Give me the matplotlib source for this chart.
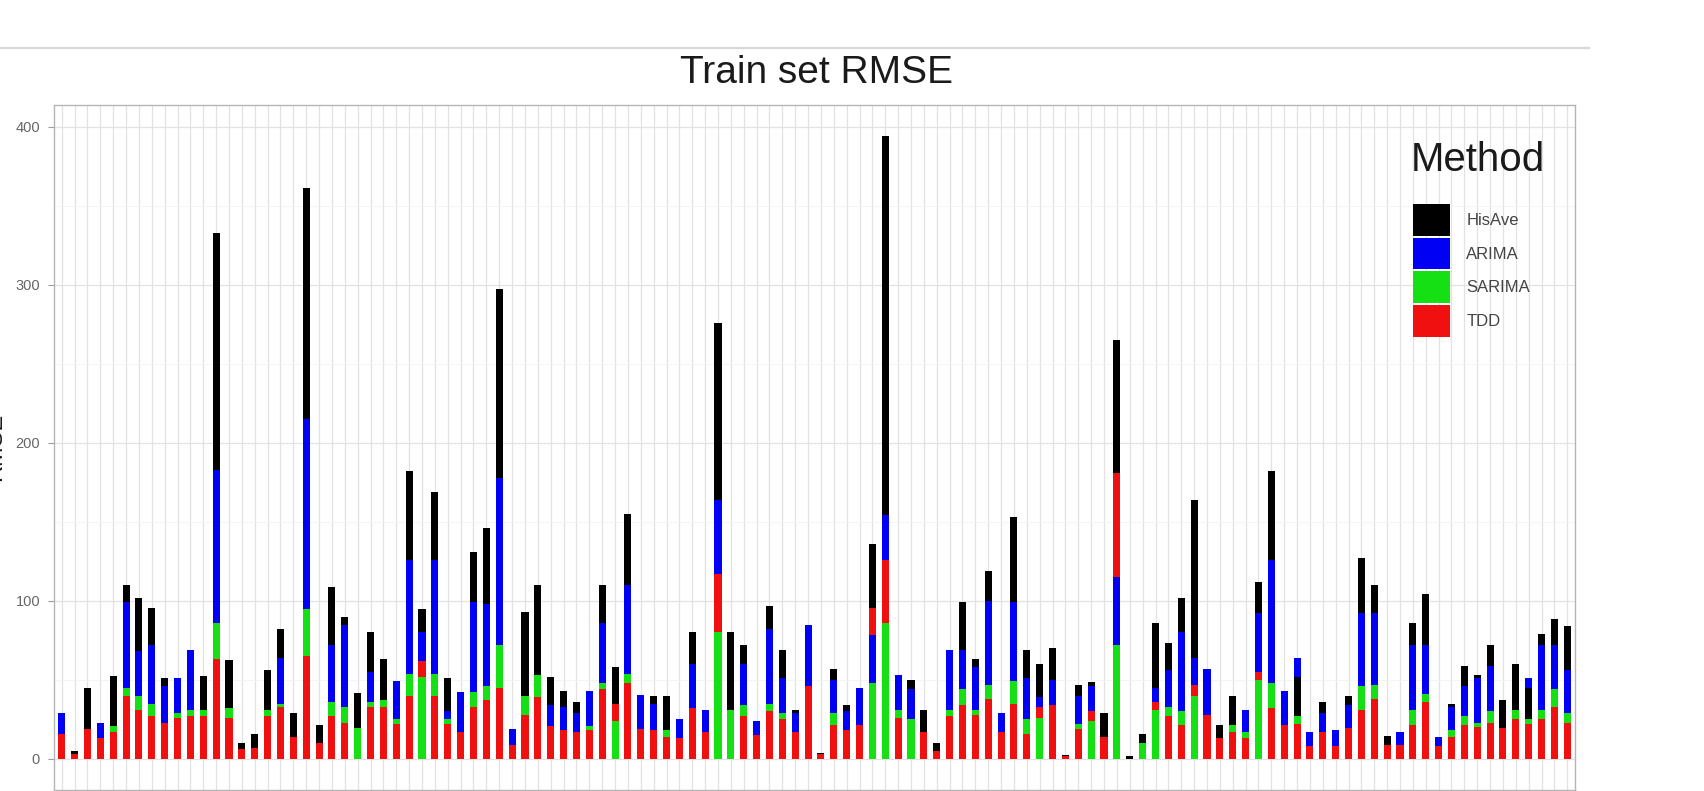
import numpy as np
import matplotlib
matplotlib.use("Agg")
import matplotlib.pyplot as plt
from matplotlib.patches import Patch
from matplotlib.lines import Line2D

plt.rcParams["font.family"] = ["Liberation Sans", "DejaVu Sans"]

nan = np.nan

# RMSE per series, one entry per bar (nan = not shown)
hisave = [nan, 5, 45, nan, 52.6, 110, 102, 95.5, 51, nan,
          nan, 52.5, 333, 62.7, 10, 16, 56.5, 82, 29, 361,
          21.5, 109, 90, 41.6, 80, 63, nan, 182, 95, 169,
          51, nan, 131, 146, 297, nan, 93, 110, 52, 43,
          36, nan, 110, 58, 155, nan, 40, 40, nan, 80,
          nan, 276, 80, 72, nan, 97, 69, 31, nan, 4,
          57, 34, nan, 136, 394, nan, 50, 31, 10, nan,
          99, 63, 119, nan, 153, 69, 60, 70, 2.5, 47,
          48.5, 29, 265, 2, 16, 86, 73, 102, 164, nan,
          21.5, 39.5, nan, 112, 182, nan, 52, nan, 36, nan,
          40, 127, 110, 14.6, nan, 86, 104, nan, 35, 58.5,
          53, 72, 37, 60, 45, 79, 88.5, 84]
arima = [29, nan, nan, 23, nan, 99, 68, 72, 46, 51,
         69, nan, 183, nan, nan, nan, nan, 64, nan, 215,
         nan, 72, 85, nan, 55, nan, 49, 126, 80, 126,
         30, 42, 99, 98, 178, 19, nan, nan, 34, 33,
         29, 43, 86, nan, 110, 40.6, 35, nan, 25, 60,
         31, 164, nan, 60, 24, 82, 51, 29, 85, nan,
         50, 30, 45, 78.6, 154, 53, 44, nan, nan, 69,
         69, 58, 100, 29, 99, 51, 39, 50, nan, 40,
         46, nan, 115, nan, nan, 45, 56, 80, 64, 57,
         nan, nan, 31, 92, 126, 42.7, 64, 17, 29, 18,
         34, 92, 92, nan, 17, 72, 72, 14, 33, 46,
         51, 58.5, nan, nan, 51, 72, 72, 56]
sarima = [nan, nan, nan, nan, 20.5, 45, 40, 35, nan, 29,
          31, 31, 86, 32, nan, nan, 31, 35, nan, 95,
          nan, 36, 33, 19.4, 36, 37, 25, 54, 52, 54,
          25, nan, 42, 46, 72, nan, 39.5, 53, nan, nan,
          nan, 20.5, 48, 24, 54, nan, nan, 18, nan, nan,
          nan, 80, 31, 34, nan, 35, 29, nan, nan, nan,
          29, nan, nan, 48, 86, 31, 25, nan, nan, 31,
          44, 31, 47, nan, 49, 25, 26, nan, nan, 22,
          24, nan, 72, nan, 10, 31, 33, 30, 39.5, nan,
          nan, 21.5, 17, 50, 48, nan, 27, nan, nan, nan,
          nan, 46, 47, nan, nan, 31, 41, nan, 18, 27,
          23, 30, nan, 31, 25, 31, 44, 29]
tdd = [16, 3, 19, 13, 17, 40, 31, 27, 23, 26,
       27, 27, 63, 26, 6, 7, 27, 33, 14, 65,
       10, 27, 22.6, nan, 33, 33, 22, 40, 62, 40,
       22, 17, 33, 37, 45, 9, 28, 39, 21, 18,
       17, 18, 44, 35, 48, 19, 18, 14, 13, 32,
       17, 117, nan, 27, 15, 30, 25, 17, 46, 3,
       21.5, 18, 21.5, 95.5, 126, 26, nan, 17, 5, 27,
       34, 28, 38, 17, 35, 16, 33, 34, 2, 19,
       30, 14, 181, nan, nan, 36, 27, 21.5, 47, 28,
       13, 17, 13.5, 55, 32, 21.5, 22, 8, 17, 8,
       19.5, 31, 38, 8.5, 8.5, 21.5, 36, 8, 14, 21.5,
       20, 23, 19.4, 25, 22, 25, 33, 23]

methods = ["HisAve", "ARIMA", "SARIMA", "TDD"]
series = [hisave, arima, sarima, tdd]
colors = ["#000000", "#0000F5", "#14E014", "#F01010"]

W, H = 1704, 791
fig = plt.figure(figsize=(W / 100, H / 100), dpi=100)
ax = fig.add_axes([54 / W, 1 - 790 / H, (1575 - 54) / W, (790 - 105) / H])

x = np.arange(1, len(tdd) + 1)

# bars overlap; shorter bars sit in front of taller ones
for vals, col in zip(series, colors):
    vals = np.asarray(vals, dtype=float)
    ok = ~np.isnan(vals)
    bars = ax.bar(x[ok], vals[ok], width=0.55, color=col, linewidth=0)
    for patch, v in zip(bars.patches, vals[ok]):
        patch.set_zorder(2 + (500 - v) / 1000)

ax.set_xlim(0.4, len(tdd) + 0.6)
ax.set_ylim(-19.7, 413.7)
ax.set_yticks([0, 100, 200, 300, 400])
ax.set_yticks([50, 150, 250, 350], minor=True)
ax.set_xticks(x)
ax.set_xticklabels([])
ax.tick_params(axis="y", which="major", labelsize=10.5, labelcolor="#666666",
               color="#9a9a9a", length=4, width=0.8, pad=6)
ax.tick_params(axis="y", which="minor", length=0)
ax.tick_params(axis="x", color="#9a9a9a", length=4, width=0.8)

ax.set_axisbelow(True)
ax.grid(True, which="major", color="#e2e2e2", linewidth=0.9)
ax.grid(True, which="minor", axis="y", color="#f2f2f2", linewidth=0.6)
for s in ax.spines.values():
    s.set_color("#b5b5b5")
    s.set_linewidth(1.0)

fig.text(817 / W, 1 - 73 / H, "Train set RMSE", ha="center", va="center",
         fontsize=28, color="#1a1a1a")
fig.text(6 / W, 1 - 447 / H, "RMSE", rotation=90, ha="right", va="center",
         fontsize=17, color="#1a1a1a")

fig.add_artist(Line2D([0, 1589 / W], [1 - 48 / H, 1 - 48 / H],
                      transform=fig.transFigure, color="#d8d8d8", linewidth=1.6))

# legend: title as its own text so the gap above the keys can be set freely
fig.text(1411 / W, 1 - 160 / H, "Method", ha="left", va="center",
         fontsize=29, color="#1a1a1a")
handles = [Patch(facecolor=c, edgecolor="none", label=m) for m, c in zip(methods, colors)]
leg = ax.legend(handles=handles, loc="upper left",
                bbox_to_anchor=(1413 / W, 1 - 204 / H), bbox_transform=fig.transFigure,
                frameon=False, fontsize=12, borderpad=0, borderaxespad=0,
                handlelength=2.2, handleheight=2.55, labelspacing=0.12,
                handletextpad=1.0)
for t in leg.get_texts():
    t.set_color("#444444")

fig.savefig("out.png", dpi=100)
